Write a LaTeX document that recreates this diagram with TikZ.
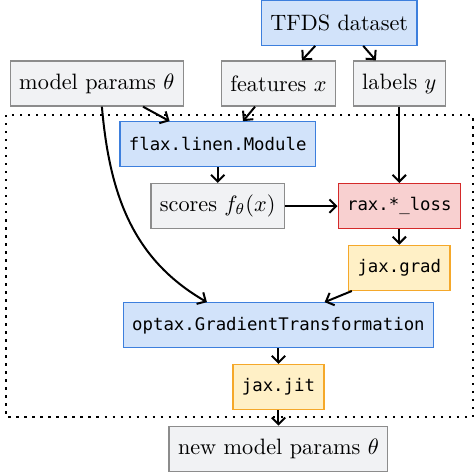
\documentclass[tikz,border=0pt]{standalone}
\usepackage{amsmath,amssymb}
\usepackage{fontspec}
\setmonofont{DejaVu Sans Mono}[Scale=0.78]
\usepackage{tikz}
\usetikzlibrary{positioning, calc, arrows.meta}

\definecolor{blueFill}{HTML}{D2E3FA}
\definecolor{blueLine}{HTML}{3D7FDD}
\definecolor{grayFill}{HTML}{F1F2F4}
\definecolor{grayLine}{HTML}{8C8C8C}
\definecolor{redFill}{HTML}{F8D0D0}
\definecolor{redLine}{HTML}{D42A2A}
\definecolor{yellowFill}{HTML}{FFF0C6}
\definecolor{yellowLine}{HTML}{F5A82A}

\begin{document}
\begin{tikzpicture}[
        % Common look of every box
        box/.style={
            draw,
            line width=0.6pt,
            minimum height=0.71cm,
            inner xsep=4pt,
            text centered
        },
        databox/.style={box, fill=grayFill, draw=grayLine},
        libbox/.style={box, fill=blueFill, draw=blueLine},
        lossbox/.style={box, fill=redFill, draw=redLine},
        jaxbox/.style={box, fill=yellowFill, draw=yellowLine},
        flow/.style={->, line width=0.9pt},
        >={Straight Barb[length=3pt, width=6pt]},
        node distance=0.245cm % gap between stacked boxes
    ]

    \useasboundingbox (0,0) rectangle (7.49,-7.49);

    % ==========================================
    % INPUTS
    % ==========================================

    \node[libbox] (tfds) at (5.36,-0.36) {TFDS dataset};
    \node[databox] (params) at (1.53,-1.32) {model params $\theta$};
    \node[databox] (features) at (4.40,-1.32) {features $x$};
    \node[databox] (labels) at (6.31,-1.32) {labels $y$};

    % ==========================================
    % TRAINING STEP (inside the dotted frame)
    % ==========================================

    \node[libbox] (flax) at (3.44,-2.28) {\texttt{flax.linen.Module}};
    \node[databox, below=of flax] (scores) {scores $f_\theta(x)$};
    \node[lossbox] (loss) at (scores -| labels) {\texttt{rax.*\_loss}};
    \node[jaxbox, below=of loss] (grad) {\texttt{jax.grad}};
    \node[libbox] (optax) at (4.40,-5.14) {\texttt{optax.GradientTransformation}};
    \node[jaxbox, below=of optax] (jit) {\texttt{jax.jit}};

    % Output
    \node[databox, below=of jit] (newparams) {new model params $\theta$};

    % Dotted frame
    \draw[line width=1pt, dash pattern=on 1pt off 2.6pt] (0.095,-1.82) rectangle (7.47,-6.59);

    % ==========================================
    % CONNECTORS
    % ==========================================

    \draw[flow] ($(tfds.south)+(-0.38,0)$) -- ($(features.north)+(0.37,0)$);
    \draw[flow] ($(tfds.south)+(0.38,0)$) -- ($(labels.north)+(-0.37,0)$);
    \draw[flow] ($(params.south)+(0.73,0)$) -- ($(flax.north)+(-0.76,0)$);
    \draw[flow] ($(features.south)+(-0.37,0)$) -- ($(flax.north)+(0.40,0)$);
    \draw[flow] (labels) -- (loss);
    \draw[flow] (flax) -- (scores);
    \draw[flow] (scores) -- (loss);
    \draw[flow] (loss) -- (grad);
    \draw[flow] ($(grad.south)+(-0.75,0)$) -- ($(optax.north)+(0.73,0)$);
    % params feed the optimizer directly
    \draw[flow] ($(params.south)+(0.08,0)$) to[out=-85, in=150] ($(optax.north)+(-1.13,0)$);
    \draw[flow] (optax) -- (jit);
    \draw[flow] (jit) -- (newparams);

\end{tikzpicture}
\end{document}
